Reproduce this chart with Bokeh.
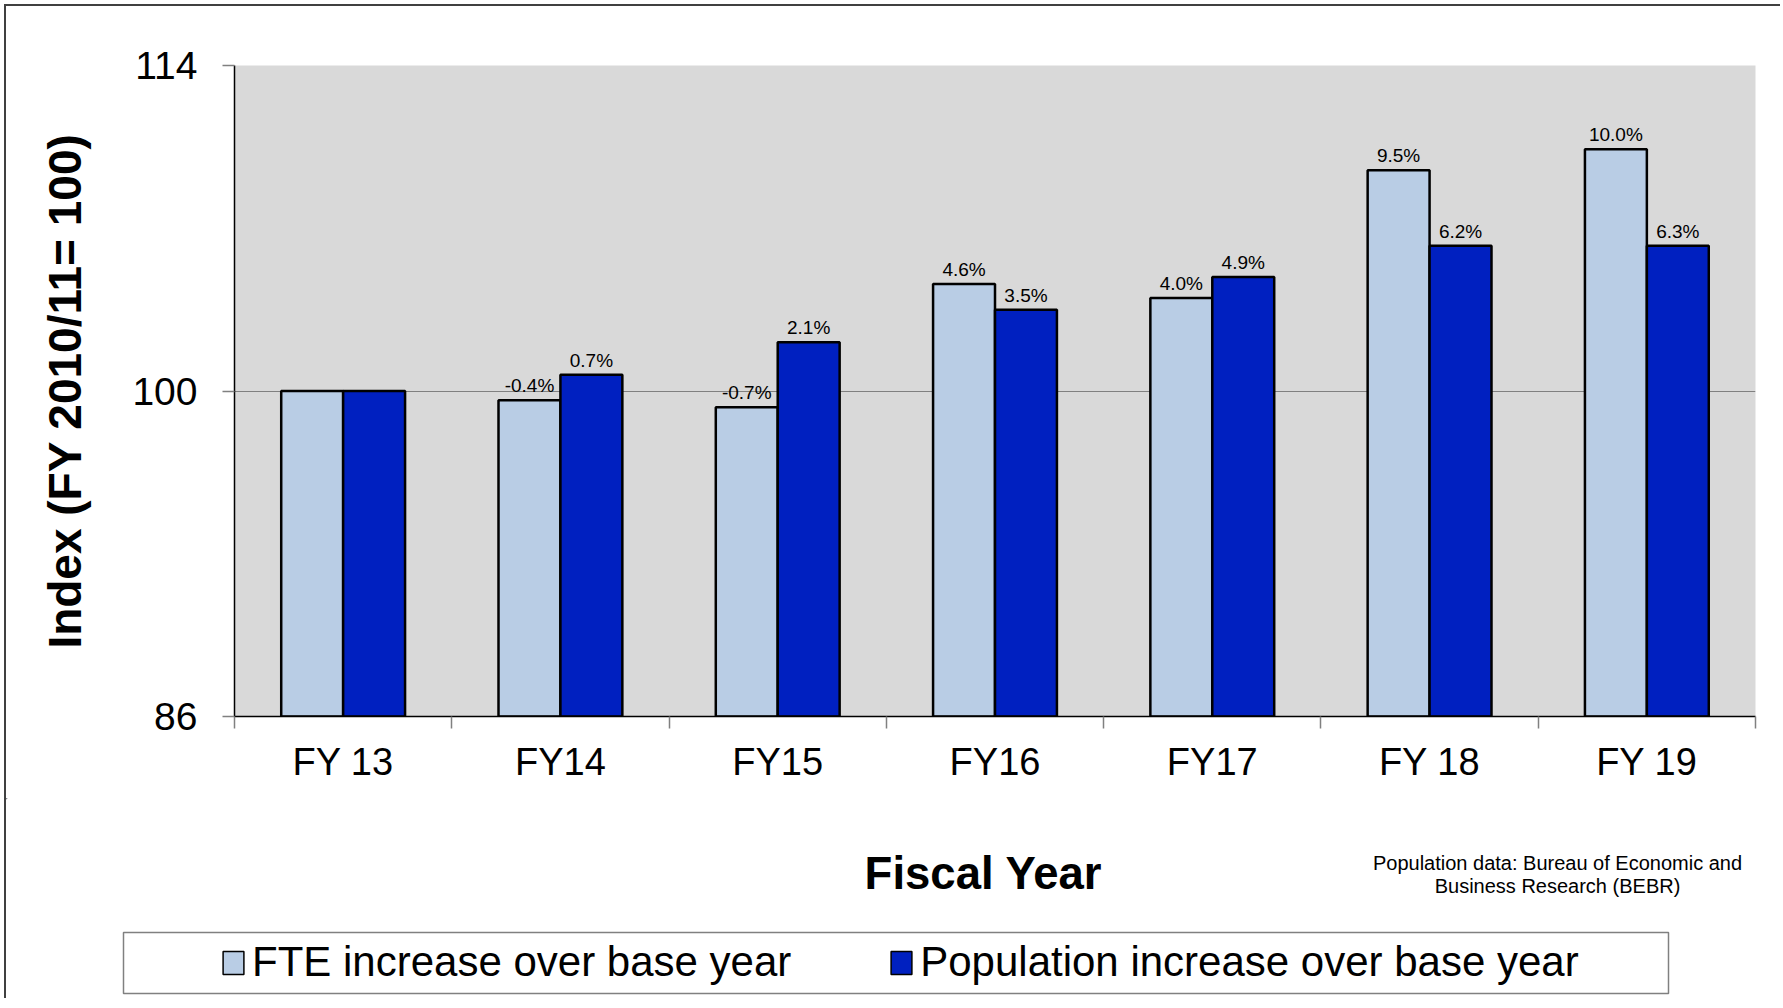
from bokeh.plotting import figure
from bokeh.models import (ColumnDataSource, FixedTicker, Range1d, Legend, LegendItem)
from bokeh.transform import dodge
from bokeh.core.properties import value
from bokeh.embed import file_html
from bokeh.resources import INLINE

# ---------------- data ----------------
categories = ["FY 13", "FY14", "FY15", "FY16", "FY17", "FY 18", "FY 19"]
fte_index = [100.0, 99.6, 99.3, 104.6, 104.0, 109.5, 110.4]
pop_index = [100.0, 100.7, 102.1, 103.5, 104.9, 106.25, 106.25]
fte_labels = ["", "-0.4%", "-0.7%", "4.6%", "4.0%", "9.5%", "10.0%"]
pop_labels = ["", "0.7%", "2.1%", "3.5%", "4.9%", "6.2%", "6.3%"]
y_ticks = [86, 100, 114]
series_names = ["FTE increase over base year", "Population increase over base year"]
source_note = ["Population data: Bureau of Economic and", "Business Research (BEBR)"]
y_title = "Index (FY 2010/11= 100)"
x_title = "Fiscal Year"

FONT = "Liberation Sans"
FTE_COLOR = "#B9CDE5"
POP_COLOR = "#0020C0"
BAR_LINE = 2.5
FRAME = "2px solid #404040"

n = len(categories)
xpos = [i + 1 for i in range(n)]
src = ColumnDataSource(dict(x=xpos, fte=fte_index, pop=pop_index,
                            fte_lbl=fte_labels, pop_lbl=pop_labels))

# ---------------- main chart ----------------
W, HA = 1776, 794
p = figure(width=W, height=HA,
           x_range=Range1d(0.5, n + 0.5), y_range=Range1d(y_ticks[0], y_ticks[-1]),
           output_backend="svg", toolbar_location=None,
           min_border_left=228, min_border_right=W - 1749,
           min_border_top=59, min_border_bottom=HA - 710)
p.styles = {"margin-left": "4px", "margin-top": "4px",
            "border-top": FRAME, "border-left": FRAME}
p.background_fill_color = "#D9D9D9"
p.border_fill_color = "white"
p.outline_line_color = None

off = 0.1425
bw = 0.285
r_fte = p.vbar(x=dodge("x", -off, range=p.x_range), top="fte", bottom=y_ticks[0], width=bw,
               fill_color=FTE_COLOR, line_color="black", line_width=BAR_LINE, source=src)
r_pop = p.vbar(x=dodge("x", off, range=p.x_range), top="pop", bottom=y_ticks[0], width=bw,
               fill_color=POP_COLOR, line_color="black", line_width=BAR_LINE, source=src)

for col, lbl, o in (("fte", "fte_lbl", -off), ("pop", "pop_lbl", off)):
    p.text(x=dodge("x", o, range=p.x_range), y=col, text=lbl, source=src,
           text_align="center", text_baseline="bottom", y_offset=-4,
           text_font=value(FONT), text_font_size="19px", text_color="black")

# grid
p.xgrid.grid_line_color = None
p.ygrid.ticker = FixedTicker(ticks=[100, 114])
p.ygrid.grid_line_color = "#808080"
p.ygrid.grid_line_width = 1.2

# x axis
xa = p.xaxis[0]
xa.ticker = FixedTicker(ticks=xpos, minor_ticks=[i + 0.5 for i in range(n + 1)])
xa.major_label_overrides = {x: c for x, c in zip(xpos, categories)}
xa.major_tick_out = 0
xa.major_tick_in = 0
xa.major_tick_line_color = None
xa.minor_tick_out = 12
xa.minor_tick_in = 0
xa.minor_tick_line_color = "#808080"
xa.minor_tick_line_width = 1.5
xa.axis_line_color = "black"
xa.axis_line_width = 1.5
xa.major_label_standoff = 12
xa.major_label_text_font = FONT
xa.major_label_text_font_size = "38px"
xa.major_label_text_color = "black"

# y axis
ya = p.yaxis[0]
ya.ticker = FixedTicker(ticks=y_ticks)
ya.major_tick_out = 12
ya.major_tick_in = 0
ya.major_tick_line_color = "#808080"
ya.major_tick_line_width = 1.5
ya.minor_tick_out = 0
ya.minor_tick_in = 0
ya.axis_line_color = "black"
ya.axis_line_width = 1.5
ya.major_label_standoff = 25
ya.major_label_text_font = FONT
ya.major_label_text_font_size = "39px"
ya.major_label_text_color = "black"
ya.axis_label = y_title
ya.axis_label_text_font = FONT
ya.axis_label_text_font_style = "bold"
ya.axis_label_text_font_size = "46px"
ya.axis_label_text_color = "black"
ya.axis_label_standoff = 38

# ---------------- lower band: axis title, source note, legend ----------------
HB = 200
q = figure(width=W, height=HB, x_range=Range1d(0, W), y_range=Range1d(HB, 0),
           x_axis_location=None, y_axis_location=None, min_border=0,
           output_backend="svg", toolbar_location=None)
q.styles = {"margin-left": "4px", "border-left": FRAME}
q.outline_line_color = None
q.background_fill_color = "white"
q.border_fill_color = "white"
q.xgrid.visible = False
q.ygrid.visible = False

q.text(x=[977], y=[75], text=[x_title], text_align="center", text_baseline="alphabetic",
       text_font=value(FONT), text_font_style="bold", text_font_size="45.5px", text_color="black")
q.text(x=[1551] * len(source_note), y=[64, 87], text=source_note,
       text_align="center", text_baseline="alphabetic",
       text_font=value(FONT), text_font_size="20px", text_color="black")

# legend frame
q.quad(left=[117], right=[1662], top=[134], bottom=[195],
       fill_color="white", line_color="#808080", line_width=1.5)

# legend swatches take their look from these proxy bar renderers (outside the view)
l_fte = q.vbar(x=[-500], top=[-500], bottom=[-501], width=1,
               fill_color=FTE_COLOR, line_color="black", line_width=1.5)
l_pop = q.vbar(x=[-500], top=[-500], bottom=[-501], width=1,
               fill_color=POP_COLOR, line_color="black", line_width=1.5)

legend = Legend(items=[LegendItem(label=series_names[0], renderers=[l_fte]),
                       LegendItem(label=series_names[1], renderers=[l_pop])],
                orientation="horizontal", location=(214, 12),
                glyph_width=26, glyph_height=29, label_standoff=6, spacing=97,
                padding=5, margin=0, border_line_color=None, background_fill_alpha=0,
                label_text_font=FONT, label_text_font_size="42px", label_text_color="black")
q.add_layout(legend)

open("out.html", "w").write(file_html([p, q], INLINE))
